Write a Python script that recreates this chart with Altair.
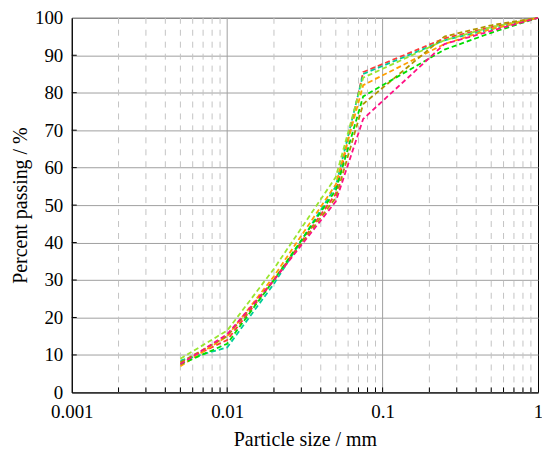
import altair as alt
import pandas as pd

# particle sizes (mm)
sizes = [0.005, 0.01, 0.02, 0.05, 0.075, 0.25, 0.5, 1.0]

# percent passing for each sample
s1 = [8.0, 14.0, 30.0, 53.0, 85.5, 94.5, 97.5, 100.0]
s2 = [8.5, 12.0, 29.0, 55.0, 85.0, 94.0, 97.0, 100.0]
s3 = [9.0, 16.5, 33.0, 57.5, 84.0, 94.0, 97.5, 100.0]
s4 = [7.0, 15.0, 31.0, 55.5, 82.0, 93.0, 97.0, 100.0]
s5 = [8.0, 15.0, 30.0, 52.0, 77.0, 95.0, 98.0, 100.0]
s6 = [7.5, 13.0, 30.0, 54.0, 79.0, 91.5, 96.0, 100.0]
s7 = [7.5, 15.5, 30.0, 51.0, 73.0, 93.0, 96.5, 100.0]

names = ["S1", "S2", "S3", "S4", "S5", "S6", "S7"]
series = [s1, s2, s3, s4, s5, s6, s7]
colors = ["#ff3838", "#00cc99", "#99e62e", "#ff9f00", "#b09400", "#00dd00", "#ff0f84"]

x_tick_labels = [0.001, 0.01, 0.1, 1]
y_tick_labels = list(range(0, 101, 10))

rows = []
for n, vals in zip(names, series):
    for x, v in zip(sizes, vals):
        rows.append({"sample": n, "size": x, "passing": v})
df = pd.DataFrame(rows)

major_x = [0.01, 0.1]
minor_x = [k * 10.0 ** e for e in (-3, -2, -1) for k in range(2, 10)]
tick_x = minor_x + major_x
tick_y = list(range(10, 100, 10))

W, H = 468, 376
FONT = "Liberation Serif"

xscale = alt.Scale(type="log", domain=[0.001, 1])
yscale = alt.Scale(domain=[0, 100], nice=False)

xaxis = alt.Axis(
    values=x_tick_labels,
    format="~g",
    title="Particle size / mm",
    grid=False,
    ticks=False,
    labelFlush=False,
    labelOverlap=False,
    labelPadding=10,
    titlePadding=8,
)
yaxis = alt.Axis(
    values=y_tick_labels,
    title="Percent passing / %",
    grid=True,
    gridColor="#a0a0a0",
    ticks=False,
    labelOverlap=False,
    labelFlush=False,
    labelPadding=9,
    titlePadding=4,
)

minor_df = pd.DataFrame({"size": minor_x})
major_df = pd.DataFrame({"size": major_x})
xt_df = pd.DataFrame({"size": tick_x})
yt_df = pd.DataFrame({"passing": tick_y})

minor_grid = alt.Chart(minor_df).mark_rule(
    color="#c4c4c4", strokeWidth=1, strokeDash=[6, 6]
).encode(x=alt.X("size:Q", scale=xscale, axis=xaxis))

major_grid = alt.Chart(major_df).mark_rule(
    color="#a0a0a0", strokeWidth=1
).encode(x=alt.X("size:Q", scale=xscale, axis=xaxis))

lines = alt.Chart(df).mark_line(strokeWidth=1.8, strokeDash=[5, 3]).encode(
    x=alt.X("size:Q", scale=xscale, axis=xaxis),
    y=alt.Y("passing:Q", scale=yscale, axis=yaxis),
    color=alt.Color("sample:N", scale=alt.Scale(domain=names, range=colors), legend=None),
    detail="sample:N",
)

xticks = alt.Chart(xt_df).mark_rule(color="black", strokeWidth=1).encode(
    x=alt.X("size:Q", scale=xscale, axis=xaxis),
    y=alt.value(H),
    y2=alt.value(H - 5),
)

yticks = alt.Chart(yt_df).mark_rule(color="black", strokeWidth=1).encode(
    y=alt.Y("passing:Q", scale=yscale, axis=yaxis),
    x=alt.value(0),
    x2=alt.value(5),
)

chart = (
    alt.layer(minor_grid, major_grid, lines, xticks, yticks)
    .properties(
        width=W,
        height=H,
        autosize=alt.AutoSizeParams(type="none"),
        padding={"left": 64, "top": 9, "right": 4, "bottom": 62},
    )
    .configure(font=FONT)
    .configure_view(stroke="black", strokeWidth=1)
    .configure_axis(
        domainColor="black",
        labelFont=FONT,
        titleFont=FONT,
        labelFontSize=19,
        titleFontSize=20,
        labelColor="black",
        titleColor="black",
        titleFontWeight="normal",
    )
)

chart.save("out.html", embed_options={"renderer": "svg", "actions": False})
